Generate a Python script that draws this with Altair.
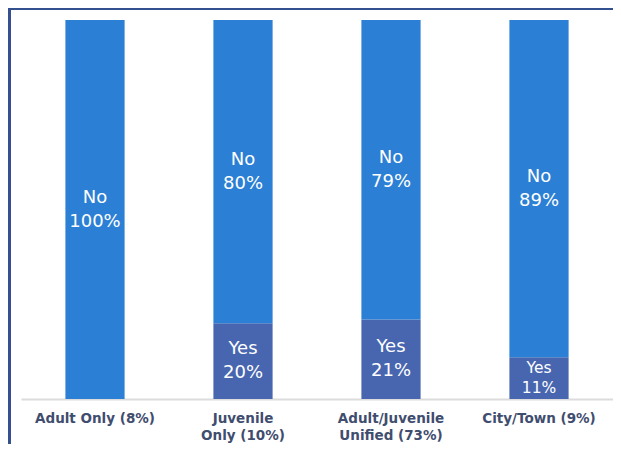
import altair as alt
import pandas as pd

categories = ["Adult Only (8%)", "Juvenile\nOnly (10%)", "Adult/Juvenile\nUnified (73%)", "City/Town (9%)"]
no_values = [100, 80, 79, 89]
yes_values = [0, 20, 21, 11]

rows = []
for i, c in enumerate(categories):
    y = yes_values[i]
    n = no_values[i]
    rows.append({"cat": c, "resp": "Yes", "val": y, "lo": 0, "hi": y, "mid": y / 2,
                 "label": f"Yes\n{y}%", "ord": 0})
    rows.append({"cat": c, "resp": "No", "val": n, "lo": y, "hi": y + n, "mid": y + n / 2,
                 "label": f"No\n{n}%", "ord": 1})
df = pd.DataFrame(rows)

xenc = alt.X("cat:N", sort=categories, title=None,
             scale=alt.Scale(paddingInner=0.6, paddingOuter=0.3),
             axis=alt.Axis(labelAngle=0, tickSize=0, labelPadding=12,
                           labelExpr="split(datum.label, '\\n')",
                           labelLineHeight=17, labelFont="DejaVu Sans",
                           labelFontSize=13.5, labelFontWeight="bold",
                           labelColor="#3f4d6e",
                           domainColor="#dcdcdc", domainWidth=2,
                           labelBaseline="top"))
yscale = alt.Scale(domain=[0, 100], nice=False)

bars = alt.Chart(df).mark_bar().encode(
    x=xenc,
    y=alt.Y("lo:Q", scale=yscale, axis=None),
    y2="hi:Q",
    color=alt.Color("resp:N", scale=alt.Scale(domain=["No", "Yes"], range=["#2b7fd4", "#4866b0"]), legend=None),
)

labels_big = alt.Chart(df).transform_filter("datum.val >= 15").mark_text(
    color="white", font="DejaVu Sans", fontSize=18, lineBreak="\n", lineHeight=24,
    baseline="middle", dy=-12
).encode(
    x=alt.X("cat:N", sort=categories),
    y=alt.Y("mid:Q", scale=yscale),
    text="label:N",
)

labels_small = alt.Chart(df).transform_filter("datum.val > 0 && datum.val < 15").mark_text(
    color="white", font="DejaVu Sans", fontSize=15.5, lineBreak="\n", lineHeight=20,
    baseline="middle", dy=-10
).encode(
    x=alt.X("cat:N", sort=categories),
    y=alt.Y("mid:Q", scale=yscale),
    text="label:N",
)

frame_top = alt.Chart(df).mark_rule(color="#34508f", strokeWidth=2).encode(
    x=alt.value(-12), x2=alt.value(600), y=alt.value(-11)
)
frame_left = alt.Chart(df).mark_rule(color="#34508f", strokeWidth=2).encode(
    x=alt.value(-11.5), y=alt.value(-12), y2=alt.value(440)
)

chart = alt.layer(bars, labels_big, labels_small, frame_top, frame_left).properties(
    width=592, height=379,
    padding={"left": 13, "top": 12, "right": 0, "bottom": 45},
    autosize=alt.AutoSizeParams(type="none"),
).configure_view(strokeWidth=0)

chart.save("out.html", embed_options={"renderer": "svg", "actions": False})
